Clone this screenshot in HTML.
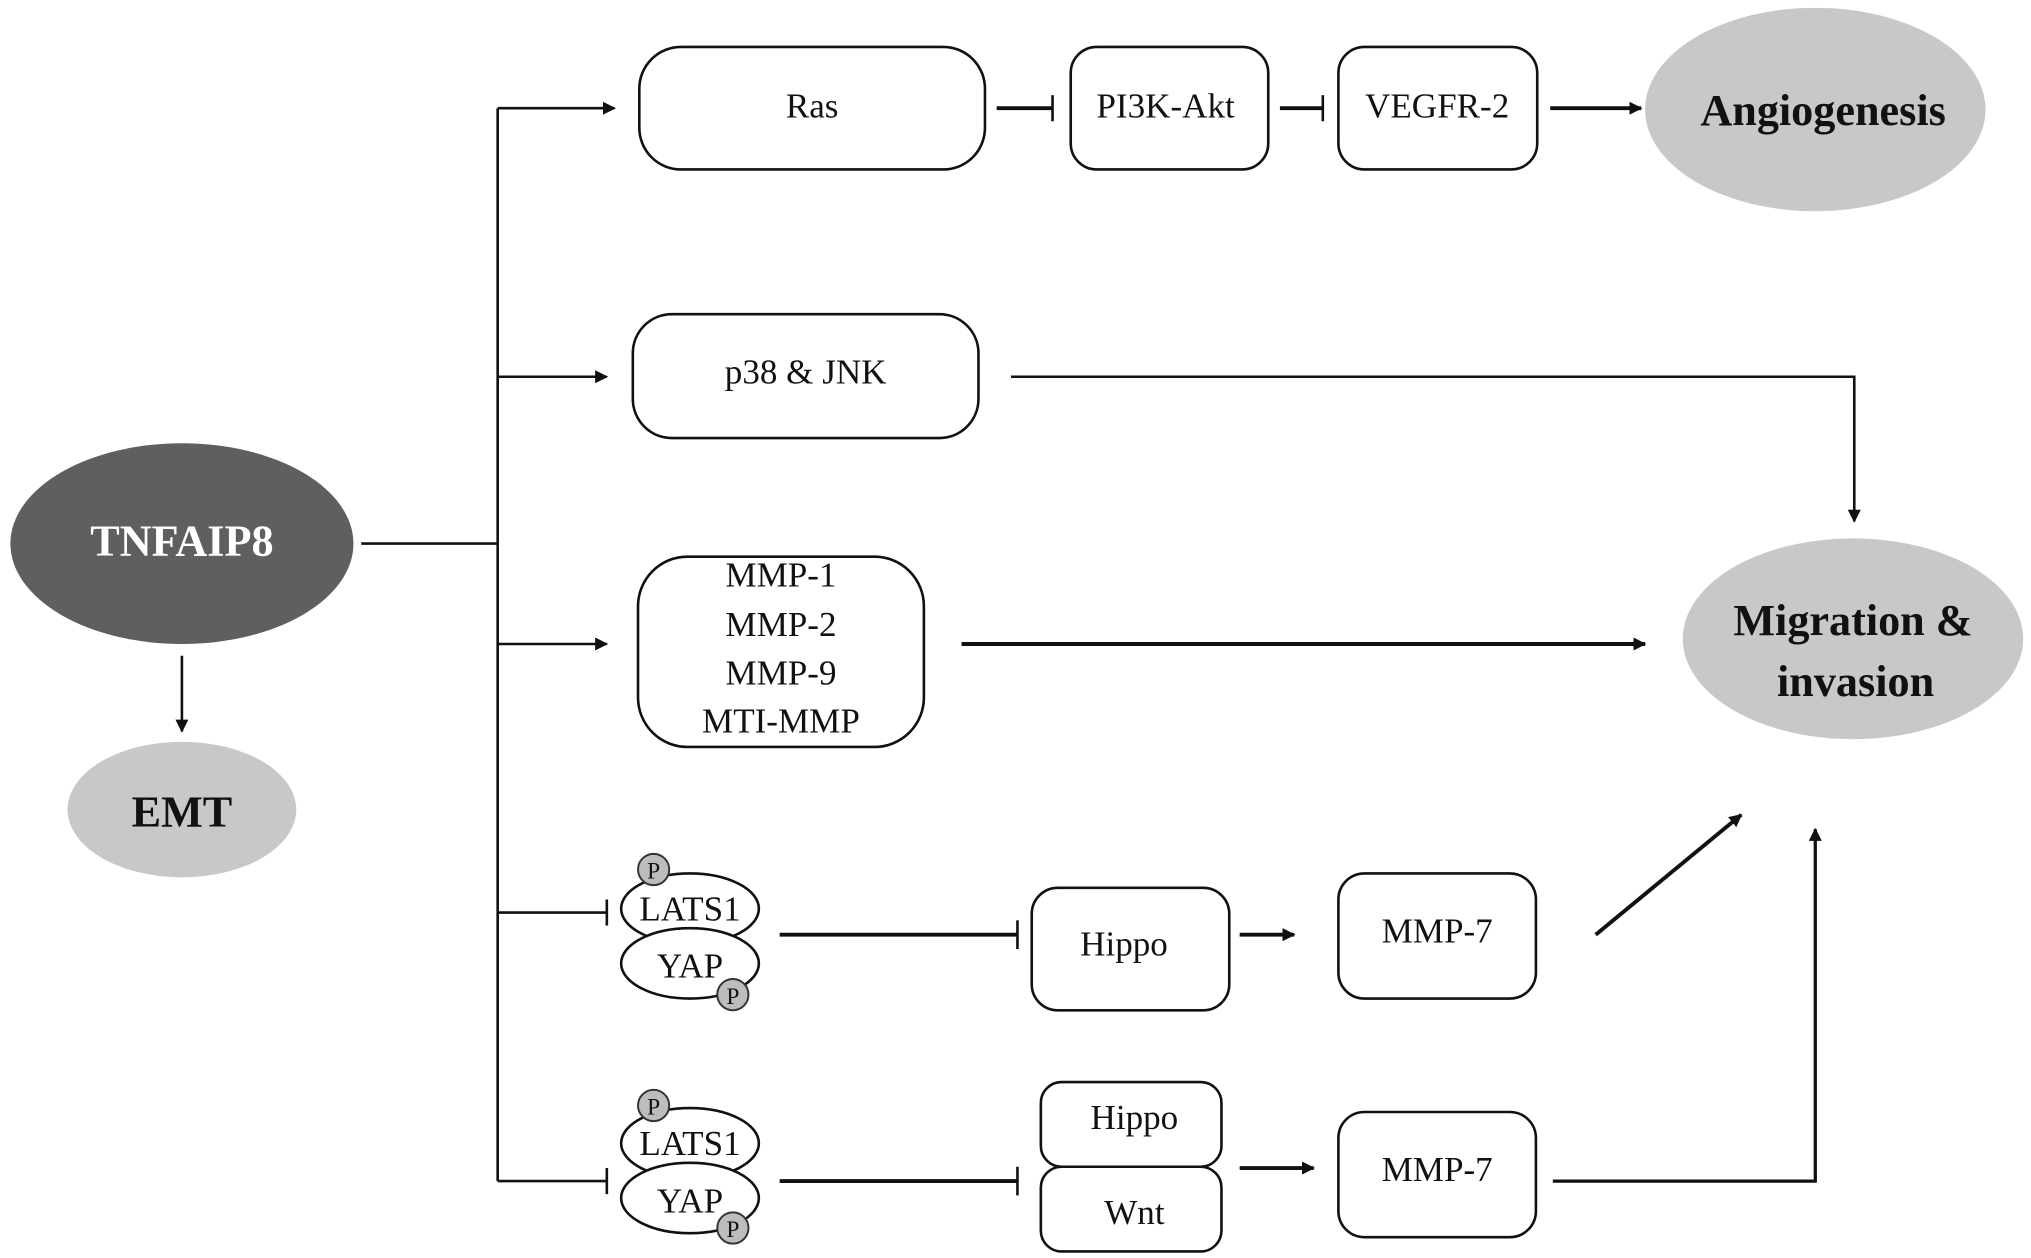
<!DOCTYPE html>
<html><head><meta charset="utf-8"><style>
html,body{margin:0;padding:0;background:#fff;}
svg{display:block;}
svg text{font-family:"Liberation Serif","Times New Roman","DejaVu Serif",serif !important;fill:#111;}
</style></head><body>
<svg width="2031" height="1258" viewBox="0 0 1563 965" preserveAspectRatio="none" xmlns="http://www.w3.org/2000/svg">
<defs>
<marker id="a" markerWidth="10" markerHeight="10" refX="9" refY="5" orient="auto" markerUnits="userSpaceOnUse">
<path d="M0,0 L10,5 L0,10 z" fill="#111"/></marker>
</defs>
<g stroke="#111" stroke-width="2" fill="none">
<line x1="278" y1="417" x2="383" y2="417"/>
<line x1="383" y1="83" x2="383" y2="906"/>
<line x1="383" y1="83" x2="473" y2="83" marker-end="url(#a)"/>
<line x1="383" y1="289" x2="467" y2="289" marker-end="url(#a)"/>
<line x1="383" y1="494" x2="467" y2="494" marker-end="url(#a)"/>
<line x1="383" y1="700" x2="467" y2="700"/><line x1="467" y1="690" x2="467" y2="710"/>
<line x1="383" y1="906" x2="467" y2="906"/><line x1="467" y1="896" x2="467" y2="916"/>
<line x1="140" y1="503" x2="140" y2="561" marker-end="url(#a)"/>
<rect x="492" y="36" width="266" height="94" rx="32"/>
<line x1="767" y1="83" x2="810" y2="83" stroke-width="3"/><line x1="810" y1="73" x2="810" y2="93"/>
<rect x="824" y="36" width="152" height="94" rx="20"/>
<line x1="985" y1="83" x2="1018" y2="83" stroke-width="3"/><line x1="1018" y1="73" x2="1018" y2="93"/>
<rect x="1030" y="36" width="153" height="94" rx="20"/>
<line x1="1193" y1="83" x2="1263" y2="83" stroke-width="3" marker-end="url(#a)"/>
<rect x="487" y="241" width="266" height="95" rx="30"/>
<polyline points="778,289 1427,289 1427,400" marker-end="url(#a)"/>
<rect x="491" y="427" width="220" height="146" rx="38"/>
<line x1="740" y1="494" x2="1266" y2="494" stroke-width="3" marker-end="url(#a)"/>
<line x1="600" y1="717" x2="783" y2="717" stroke-width="3"/><line x1="783" y1="706" x2="783" y2="728"/>
<rect x="794" y="681" width="152" height="94" rx="20"/>
<line x1="954" y1="717" x2="996" y2="717" stroke-width="3" marker-end="url(#a)"/>
<rect x="1030" y="670" width="152" height="96" rx="20"/>
<line x1="1228" y1="717" x2="1340" y2="625" stroke-width="3" marker-end="url(#a)"/>
<line x1="600" y1="906" x2="783" y2="906" stroke-width="3"/><line x1="783" y1="895" x2="783" y2="917"/>
<rect x="801" y="830" width="139" height="65" rx="16"/>
<rect x="801" y="895" width="139" height="65" rx="16"/>
<line x1="954" y1="896" x2="1011" y2="896" stroke-width="3" marker-end="url(#a)"/>
<rect x="1030" y="853" width="152" height="96" rx="20"/>
<polyline points="1195,906 1397,906 1397,636" stroke-width="2.5" marker-end="url(#a)"/>
<ellipse cx="531" cy="697" rx="53" ry="27" fill="#fff"/>
<ellipse cx="531" cy="739" rx="53" ry="27" fill="#fff"/>
<ellipse cx="531" cy="877" rx="53" ry="27" fill="#fff"/>
<ellipse cx="531" cy="919" rx="53" ry="27" fill="#fff"/>
</g>
<g fill="#bdbdbd" stroke="#333" stroke-width="1.5">
<circle cx="503" cy="667" r="12"/><circle cx="564" cy="763" r="12"/>
<circle cx="503" cy="848" r="12"/><circle cx="564" cy="942" r="12"/>
</g>
<ellipse cx="140" cy="417" rx="132" ry="77" fill="#5f5f5f"/>
<ellipse cx="140" cy="621" rx="88" ry="52" fill="#c8c8c8"/>
<ellipse cx="1397" cy="84" rx="131" ry="78" fill="#c8c8c8"/>
<ellipse cx="1426" cy="490" rx="131" ry="77" fill="#c8c8c8"/>
<g text-anchor="middle" font-size="27" font-family="Liberation Serif, serif">
<text x="140" y="426" font-weight="bold" font-size="34" style="fill:#fff">TNFAIP8</text>
<text x="140" y="634" font-weight="bold" font-size="34">EMT</text>
<text x="1403" y="96" font-weight="bold" font-size="34">Angiogenesis</text>
<text x="1426" y="487" font-weight="bold" font-size="34">Migration &amp;</text>
<text x="1428" y="534" font-weight="bold" font-size="34">invasion</text>
<text x="625" y="90">Ras</text>
<text x="897" y="90">PI3K-Akt</text>
<text x="1106" y="90">VEGFR-2</text>
<text x="620" y="294">p38 &amp; JNK</text>
<text x="601" y="450">MMP-1</text>
<text x="601" y="488">MMP-2</text>
<text x="601" y="525">MMP-9</text>
<text x="601" y="562">MTI-MMP</text>
<text x="531" y="706">LATS1</text>
<text x="531" y="750">YAP</text>
<text x="531" y="886">LATS1</text>
<text x="531" y="930">YAP</text>
<text x="865" y="733">Hippo</text>
<text x="1106" y="723">MMP-7</text>
<text x="873" y="866">Hippo</text>
<text x="873" y="939">Wnt</text>
<text x="1106" y="906">MMP-7</text>
<text x="503" y="674" font-size="18">P</text>
<text x="564" y="770" font-size="18">P</text>
<text x="503" y="855" font-size="18">P</text>
<text x="564" y="949" font-size="18">P</text>
</g>
</svg>
</body></html>
